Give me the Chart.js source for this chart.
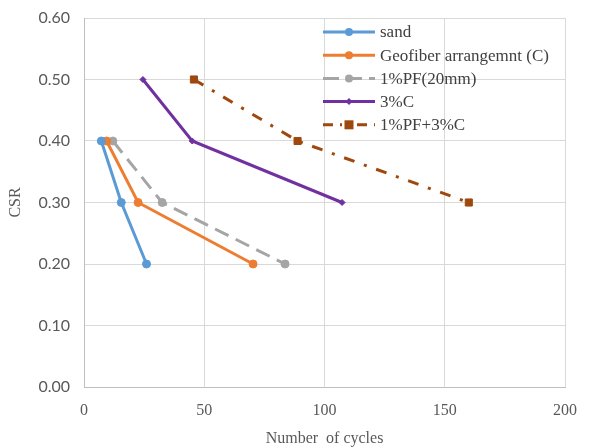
<!DOCTYPE html>
<html>
<head>
<meta charset="utf-8">
<script src="https://cdn.jsdelivr.net/npm/chart.js@4/dist/chart.umd.min.js"></script>
<style>
  html, body { margin: 0; padding: 0; background: #ffffff; }
  #wrap { width: 592px; height: 448px; }
</style>
</head>
<body>
<div id="wrap"><canvas id="c" width="592" height="448"></canvas></div>
<script>
// Cyclic triaxial results: cycles to failure at each cyclic stress ratio
const seriesNames = ['sand', 'Geofiber arrangemnt (C)', '1%PF(20mm)', '3%C', '1%PF+3%C'];

const sandCycles = [7.2, 15.5, 26];
const sandCSR = [0.40, 0.30, 0.20];

const geofiberCycles = [9.4, 22.5, 70.3];
const geofiberCSR = [0.40, 0.30, 0.20];

const pf20Cycles = [12, 32.5, 83.6];
const pf20CSR = [0.40, 0.30, 0.20];

const c3Cycles = [24.5, 45, 107.3];
const c3CSR = [0.50, 0.40, 0.30];

const pfc3Cycles = [45.7, 88.8, 160];
const pfc3CSR = [0.50, 0.40, 0.30];

const xTicks = [0, 50, 100, 150, 200];
const yTicks = [0, 0.1, 0.2, 0.3, 0.4, 0.5, 0.6];

const pts = (xs, ys) => xs.map((x, i) => ({ x: x, y: ys[i] }));

const colors = ['#5B9BD5', '#ED7D31', '#A5A5A5', '#7030A0', '#9E480E'];
const dashes = [[], [], [15, 8], [], [11, 10, 3, 10]];
const markers = ['circle', 'circle', 'circle', 'rectRot', 'rect'];
const markerSizes = [4, 4, 4, 3, 5];

const seriesData = [
  pts(sandCycles, sandCSR),
  pts(geofiberCycles, geofiberCSR),
  pts(pf20Cycles, pf20CSR),
  pts(c3Cycles, c3CSR),
  pts(pfc3Cycles, pfc3CSR)
];

const datasets = seriesData.map((d, i) => ({
  label: seriesNames[i],
  data: d,
  showLine: true,
  borderColor: colors[i],
  backgroundColor: colors[i],
  borderWidth: 3,
  borderDash: dashes[i],
  pointStyle: markers[i],
  pointRadius: markerSizes[i],
  pointBorderWidth: 1,
  pointBorderColor: colors[i],
  pointBackgroundColor: colors[i],
  tension: 0
}));

// Legend drawn inside the plot area, over the gridlines
const innerLegend = {
  id: 'innerLegend',
  afterDatasetsDraw(chart) {
    const ctx = chart.ctx;
    const area = chart.chartArea;
    const x0 = area.left + 239;
    const y0 = area.top + 14;
    const rowH = 23.2;
    ctx.save();
    ctx.font = '17px "Liberation Serif", "Times New Roman", serif';
    ctx.textBaseline = 'middle';
    chart.data.datasets.forEach((ds, i) => {
      const y = y0 + i * rowH;
      ctx.strokeStyle = ds.borderColor;
      ctx.lineWidth = 3;
      ctx.setLineDash(i === 2 ? [16, 7] : (i === 4 ? [10, 7] : []));
      ctx.beginPath();
      ctx.moveTo(x0, y);
      ctx.lineTo(x0 + 52, y);
      ctx.stroke();
      ctx.setLineDash([]);
      ctx.fillStyle = ds.borderColor;
      const mx = x0 + 26;
      if (ds.pointStyle === 'rect') {
        ctx.fillStyle = '#ffffff';
        ctx.fillRect(mx - 7, y - 6, 14, 12);
        ctx.fillStyle = ds.borderColor;
        ctx.fillRect(mx - 4.5, y - 4.5, 9, 9);
      } else if (ds.pointStyle === 'rectRot') {
        ctx.beginPath();
        ctx.moveTo(mx, y - 3.5);
        ctx.lineTo(mx + 3.5, y);
        ctx.lineTo(mx, y + 3.5);
        ctx.lineTo(mx - 3.5, y);
        ctx.closePath();
        ctx.fill();
      } else {
        ctx.beginPath();
        ctx.arc(mx, y, 4, 0, Math.PI * 2);
        ctx.fill();
      }
      ctx.fillStyle = '#404040';
      ctx.fillText(ds.label, x0 + 57, y + 1);
    });
    ctx.restore();
  }
};

new Chart(document.getElementById('c'), {
  type: 'scatter',
  data: { datasets: datasets },
  plugins: [innerLegend],
  options: {
    responsive: false,
    animation: false,
    layout: { padding: { left: 6, right: 27, top: 18, bottom: 0 } },
    plugins: {
      legend: { display: false },
      tooltip: { enabled: false }
    },
    scales: {
      x: {
        type: 'linear',
        min: 0,
        max: 200,
        afterBuildTicks(scale) { scale.ticks = xTicks.map(v => ({ value: v })); },
        afterFit(scale) { scale.height = 61; scale.paddingLeft = 0; scale.paddingRight = 0; },
        grid: { color: '#d9d9d9', lineWidth: 1, drawTicks: false },
        border: { color: '#bfbfbf', width: 1 },
        ticks: {
          color: '#595959',
          padding: 14,
          font: { family: '"Liberation Serif", "Times New Roman", serif', size: 16 },
          callback: v => String(v)
        },
        title: {
          display: true,
          text: 'Number  of cycles',
          color: '#595959',
          padding: { top: 6, bottom: 0 },
          font: { family: '"Liberation Serif", "Times New Roman", serif', size: 16 }
        }
      },
      y: {
        type: 'linear',
        min: 0,
        max: 0.6,
        afterBuildTicks(scale) { scale.ticks = yTicks.map(v => ({ value: v })); },
        afterFit(scale) { scale.width = 78; scale.paddingTop = 0; scale.paddingBottom = 0; },
        grid: { color: '#d9d9d9', lineWidth: 1, drawTicks: false },
        border: { color: '#bfbfbf', width: 1 },
        ticks: {
          color: '#595959',
          padding: 14,
          font: { family: 'Lato, "Noto Sans", sans-serif', size: 16 },
          callback: v => v.toFixed(2)
        },
        title: {
          display: true,
          text: 'CSR',
          color: '#595959',
          padding: { top: 0, bottom: 2 },
          font: { family: '"Liberation Serif", "Times New Roman", serif', size: 16 }
        }
      }
    }
  }
});
</script>
</body>
</html>
